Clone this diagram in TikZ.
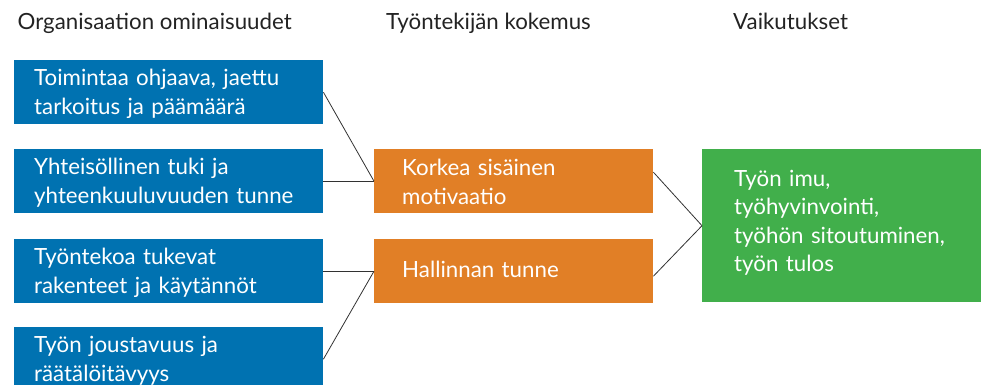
\documentclass[tikz,border=0pt]{standalone}
\usepackage{fontspec}
\setmainfont{Lato}
\definecolor{blueC}{RGB}{0,114,177}
\definecolor{orangeC}{RGB}{225,127,38}
\definecolor{greenC}{RGB}{65,175,75}
\definecolor{headC}{RGB}{35,35,35}
\definecolor{lineC}{RGB}{50,50,50}
\begin{document}
\begin{tikzpicture}[x=1pt,y=-1pt,
  every node/.style={font=\fontsize{22.3}{28.5}\selectfont},
  head/.style={anchor=base west,inner sep=0pt,text=headC},
  boxbase/.style={text=white,anchor=north west,inner ysep=0pt,align=left,text height=20pt},
  bluebox/.style={boxbase,fill=blueC,minimum height=64pt,
    inner xsep=20pt,text width=269pt,text depth=33pt},
  orangebox/.style={boxbase,fill=orangeC,minimum height=64pt,
    inner xsep=28pt,text width=223pt,text depth=31pt},
  greenbox/.style={boxbase,fill=greenC,minimum height=153pt,
    inner xsep=32pt,text width=215pt,text depth=99pt},
  conn/.style={draw=lineC,line width=0.8pt}]
\useasboundingbox (0,0) rectangle (985,385);
\node[head] (h1) at (17.5,29.3) {Organisaation ominaisuudet};
\node[head] (h2) at (386,29.3) {Työntekijän kokemus};
\node[head] (h3) at (733,29.3) {Vaikutukset};
\node[bluebox] (b1) at (14,60) {Toimintaa ohjaava, jaettu\\tarkoitus ja päämäärä};
\node[bluebox] (b2) at (14,149) {Yhteisöllinen tuki ja\\yhteenkuuluvuuden tunne};
\node[bluebox] (b3) at (14,239) {Työntekoa tukevat\\rakenteet ja käytännöt};
\node[bluebox] (b4) at (14,327) {Työn joustavuus ja\\räätälöitävyys};
\node[orangebox] (o1) at (374,149) {Korkea sisäinen\\motivaatio};
\node[orangebox,text depth=7pt] (o2) at (374,239) {Hallinnan tunne};
\node[greenbox] (g) at (702,149) {Työn imu,\\työhyvinvointi,\\työhön sitoutuminen,\\työn tulos};
\draw[conn] (b1.east) -- (o1.west);
\draw[conn] (b2.east) -- (o1.west);
\draw[conn] (b3.east) -- (o2.west);
\draw[conn] (b4.east) -- (o2.west);
\draw[conn] ([yshift=9pt]o1.east) -- (g.west);
\draw[conn] ([yshift=-5pt]o2.east) -- (g.west);
\end{tikzpicture}
\end{document}
